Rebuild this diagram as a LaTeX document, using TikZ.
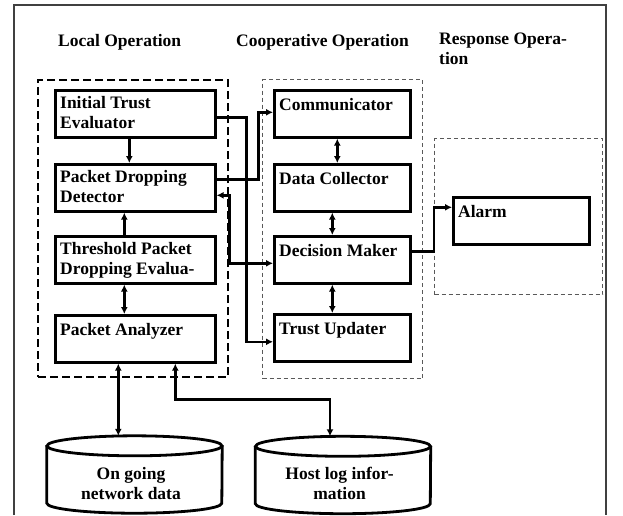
\documentclass[tikz,border=0pt]{standalone}
\usepackage{fontspec}
\setmainfont{Liberation Serif}
\usetikzlibrary{arrows.meta}

\begin{document}
\begin{tikzpicture}[x=1pt,y=-1pt,
  every node/.style={font=\fontsize{17.5}{20}\selectfont\bfseries, inner sep=0pt},
  frame/.style={draw=black!75, line width=1.8pt},
  unit/.style={draw, line width=2.6pt, minimum height=47pt, anchor=north west},
  lunit/.style={unit, minimum width=160pt},
  cunit/.style={unit, minimum width=136pt},
  % first baseline sits 14pt below the node's top edge
  label/.style={anchor=north west, align=left, execute at begin node={\rule{0pt}{14pt}}},
  head/.style={label},
  localbox/.style={draw, line width=2.4pt, dash pattern=on 8pt off 4pt, anchor=north west},
  groupbox/.style={draw=black!65, line width=1.2pt, dash pattern=on 4pt off 3pt, anchor=north west},
  store/.style={minimum width=175pt, minimum height=77pt},
  storetext/.style={align=center},
  conn/.style={line width=2.4pt, arrows={-Latex[length=7pt,width=7pt]}},
  both/.style={line width=2.4pt, arrows={Latex[length=7pt,width=7pt]-Latex[length=7pt,width=7pt]}},
  line/.style={line width=2.8pt}
]
\useasboundingbox (0,0) rectangle (623,515);

% outer frame, open at the bottom
\draw[frame] (14,515) |- (606,5) -- (606,515);

% column headings
\node[head] (hlocal) at (58,32.5) {Local Operation};
\node[head] (hcoop) at (236,32.5) {Cooperative Operation};
\node[head] (hresp) at (439,32.5) {Response Opera-\\tion};

% group containers
\node[localbox, minimum width=190pt, minimum height=297pt] (local) at (37,79) {};
\node[groupbox, minimum width=160pt, minimum height=299pt] (coop) at (262,79) {};
\node[groupbox, minimum width=168pt, minimum height=156pt] (resp) at (434,138) {};

% local operation units
\node[lunit] (ite)  at (54,89)  {};
\node[lunit] (pdd)  at (54,163) {};
\node[lunit] (tpde) at (54,235) {};
\node[lunit] (pa)   at (54,314) {};
\node[label] (ite-t)  at ([xshift=6pt,yshift=-7.5pt]ite.north west)  {Initial Trust\\Evaluator};
\node[label] (pdd-t)  at ([xshift=6pt,yshift=-7.5pt]pdd.north west)  {Packet Dropping\\Detector};
\node[label] (tpde-t) at ([xshift=6pt,yshift=-7.5pt]tpde.north west) {Threshold Packet\\Dropping Evalua-};
\node[label] (pa-t)   at ([xshift=6pt,yshift=-7.5pt]pa.north west)   {Packet Analyzer};

% cooperative operation units
\node[cunit] (comm) at (273,89)  {};
\node[cunit] (dc)   at (273,163) {};
\node[cunit] (dm)   at (273,235) {};
\node[cunit] (tu)   at (273,313) {};
\node[label] (comm-t) at ([xshift=6pt,yshift=-7.5pt]comm.north west) {Communicator};
\node[label] (dc-t)   at ([xshift=6pt,yshift=-7.5pt]dc.north west)   {Data Collector};
\node[label] (dm-t)   at ([xshift=6pt,yshift=-7.5pt]dm.north west)   {Decision Maker};
\node[label] (tu-t)   at ([xshift=6pt,yshift=-7.5pt]tu.north west)   {Trust Updater};

% response operation unit
\node[cunit] (alarm) at (452,196) {};
\node[label] (alarm-t) at ([xshift=6pt,yshift=-7.5pt]alarm.north west) {Alarm};

% data stores
\node[store] (net)  at (134.5,474.5) {};
\node[store] (host) at (343,475) {};
\foreach \c in {net,host} {
  \draw[line] ([yshift=-10pt]\c.north west) -- ([yshift=10pt]\c.south west)
    arc[start angle=180, end angle=360, x radius=87.5pt, y radius=10pt]
    -- ([yshift=-10pt]\c.north east);
  \draw[line] ([yshift=-10pt]\c.north) ellipse [x radius=87.5pt, y radius=10pt];
}
\node[storetext] (net-t)  at ([xshift=-3.5pt,yshift=-9pt]net.center)  {On going\\network data};
\node[storetext] (host-t) at ([xshift=-3.5pt,yshift=-8pt]host.center) {Host log infor-\\mation};

% connection points
\coordinate (iteR)  at ([yshift=-3.5pt]ite.east);
\coordinate (tuL)   at ([yshift=-4pt]tu.west);
\coordinate (pddR)  at ([yshift=8.5pt]pdd.east);
\coordinate (commL) at ([yshift=1.5pt]comm.west);
\coordinate (pddR2) at ([yshift=-7.5pt]pdd.east);
\coordinate (dmL)   at ([yshift=-3.5pt]dm.west);
\coordinate (dmR)   at ([yshift=8.5pt]dm.east);
\coordinate (alarmL) at ([yshift=13.5pt]alarm.west);
\coordinate (paL)   at ([xshift=-17pt]pa.south);
\coordinate (paR)   at ([xshift=40pt]pa.south);
\coordinate (hostT) at ([xshift=-13pt]host.north);

% links inside the local group
\draw[conn] ([xshift=-6pt]ite.south) -- ([xshift=-6pt]pdd.north);
\draw[conn] ([xshift=-11pt]tpde.north) -- ([xshift=-11pt]pdd.south);
\draw[both] ([xshift=-11pt]tpde.south) -- ([xshift=-11pt]pa.north);

% links inside the cooperative group
\draw[both] ([xshift=-5pt]comm.south) -- ([xshift=-5pt]dc.north);
\draw[both] ([xshift=-10pt]dc.south) -- ([xshift=-10pt]dm.north);
\draw[both] ([xshift=-10pt]dm.south) -- ([xshift=-10pt]tu.north);

% links between groups
\draw[conn] (iteR) -- ++(30,0) |- (tuL);
\draw[conn] (pddR) -- ++(42,0) |- (commL);
\draw[both] (dmL) -- (dmL -| local.east) |- (pddR2);
\draw[conn] (dmR) -- (dmR -| resp.west) |- (alarmL);

% links to the data stores
\draw[both] (paL) -- (paL |- net.north);
\draw[both] (paR) -- ++(0,36) -| (hostT);
\end{tikzpicture}
\end{document}
